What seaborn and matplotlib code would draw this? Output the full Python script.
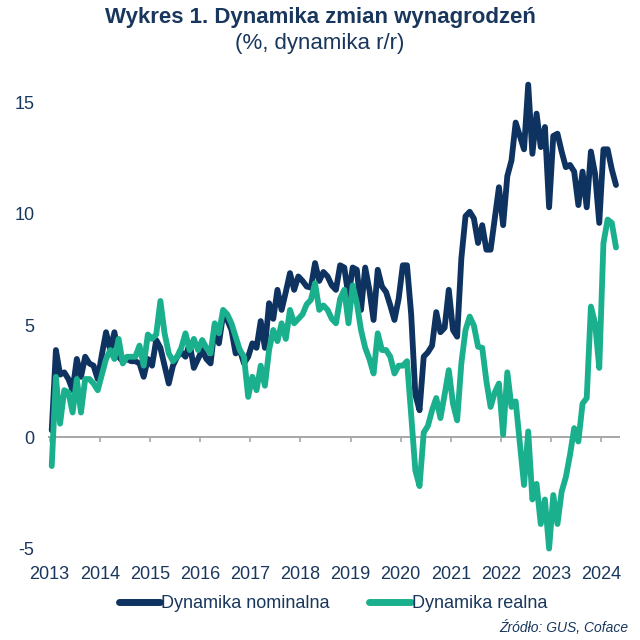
import numpy as np
import pandas as pd
import matplotlib
matplotlib.use("Agg")
import matplotlib.pyplot as plt
from matplotlib.lines import Line2D
import seaborn as sns

# ---------------- data (monthly, Jan 2013 - Apr 2024) ----------------
nominal = [
    0.3, 3.9, 2.8, 2.9, 2.6, 2.1, 3.5, 2.7, 3.6, 3.3, 3.2, 2.6,      # 2013
    3.7, 4.7, 3.9, 4.7, 3.6, 3.4, 3.5, 3.4, 3.4, 3.3, 2.7, 3.5,      # 2014
    3.2, 4.35, 4.0, 3.2, 2.4, 3.2, 3.6, 3.8, 3.6, 4.2, 3.1, 3.5,     # 2015
    3.9, 3.5, 3.3, 4.95, 4.2, 5.5, 5.25, 4.8, 3.75, 3.9, 3.3, 3.6,   # 2016
    4.2, 4.0, 5.2, 4.0, 6.0, 5.3, 6.6, 5.7, 6.5, 7.35, 6.6, 7.2,     # 2017
    7.0, 6.75, 6.7, 7.8, 7.0, 7.4, 7.2, 6.8, 6.6, 7.7, 7.6, 6.3,     # 2018
    7.6, 7.5, 5.7, 7.6, 6.6, 5.25, 7.5, 6.75, 6.5, 5.9, 5.25, 6.2,   # 2019
    7.7, 7.7, 5.5, 1.9, 1.2, 3.6, 3.8, 4.1, 5.6, 4.7, 4.9, 6.6,      # 2020
    4.8, 4.5, 8.0, 9.9, 10.1, 9.8, 8.7, 9.5, 8.4, 8.4, 9.8, 11.2,    # 2021
    9.5, 11.7, 12.4, 14.1, 13.5, 12.9, 15.8, 12.7, 14.5, 13.0, 13.9, 10.3,  # 2022
    13.5, 13.6, 12.8, 12.1, 12.2, 11.9, 10.4, 11.9, 10.3, 12.8, 11.8, 9.6,  # 2023
    12.9, 12.9, 12.0, 11.3,                                           # 2024
]
real = [
    -1.3, 2.7, 0.6, 2.1, 2.0, 1.1, 2.6, 1.1, 2.6, 2.6, 2.4, 2.1,     # 2013
    2.8, 3.5, 3.9, 3.5, 4.4, 3.3, 3.6, 3.6, 3.6, 4.1, 3.2, 4.6,      # 2014
    4.4, 4.6, 6.1, 4.65, 3.75, 3.4, 3.6, 4.0, 4.65, 3.9, 4.4, 3.9,   # 2015
    4.35, 4.0, 3.75, 5.1, 4.65, 5.7, 5.5, 5.1, 4.5, 3.9, 3.6, 1.8,   # 2016
    2.7, 2.1, 3.2, 2.3, 3.9, 4.8, 4.3, 5.1, 4.4, 5.7, 5.1, 5.3,      # 2017
    5.5, 5.95, 6.15, 6.9, 5.7, 5.9, 5.7, 5.3, 5.1, 6.2, 6.6, 5.1,    # 2018
    6.8, 6.0, 4.8, 4.0, 3.5, 2.85, 4.65, 3.9, 3.9, 3.6, 2.85, 3.2,   # 2019
    3.2, 3.4, 1.0, -1.5, -2.2, 0.2, 0.5, 1.2, 1.75, 0.85, 1.9, 3.0,  # 2020
    1.5, 0.75, 3.3, 4.8, 5.4, 5.0, 4.05, 4.0, 2.5, 1.35, 2.0, 2.4,   # 2021
    0.1, 2.9, 1.35, 1.6, -0.3, -2.15, 0.25, -2.8, -2.1, -3.9, -2.8, -5.0,  # 2022
    -2.6, -3.9, -2.45, -1.8, -0.8, 0.4, -0.2, 1.5, 1.75, 5.85, 5.1, 3.1,   # 2023
    8.7, 9.75, 9.6, 8.5,                                              # 2024
]
years = list(range(2013, 2025))
series_names = ["Dynamika nominalna", "Dynamika realna"]
colors = ["#0e3360", "#1bb08d"]
y_ticks = [-5, 0, 5, 10, 15]
title = "Wykres 1. Dynamika zmian wynagrodzeń"
subtitle = "(%, dynamika r/r)"
source = "Źródło: GUS, Coface"

# ---------------- build long table ----------------
n = len(nominal)
dates = pd.date_range("2013-01-01", periods=n, freq="MS")
month_idx = np.asarray((dates.year - years[0]) * 12 + dates.month - 1)
df = pd.DataFrame({
    "m": np.concatenate([month_idx, month_idx]),
    "v": nominal + real,
    "series": [series_names[0]] * n + [series_names[1]] * n,
})

sns.set_theme(style="white")
plt.rcParams["font.family"] = ["Liberation Sans", "DejaVu Sans"]
text_color = "#19375c"

fig = plt.figure(figsize=(6.4, 6.4), dpi=100)
ax = fig.add_axes([0.0756, 0.1359, 0.8934, 0.7458])

sns.lineplot(data=df, x="m", y="v", hue="series", hue_order=series_names,
             palette=colors, lw=4.2, ax=ax, legend=False,
             solid_joinstyle="round", solid_capstyle="round", zorder=3)

# zero line with year ticks
tick_pos = [(y - years[0]) * 12 - 0.5 for y in years]
ax.axhline(0, color="#a6a6a6", lw=1.4, zorder=1)
ax.vlines(tick_pos, -0.2, 0, color="#a6a6a6", lw=1.2, zorder=1)

ax.set_xlim(-0.8, 136)
ax.set_ylim(-5.2, 16.2)
ax.set_yticks(y_ticks)
ax.set_yticklabels([str(t) for t in y_ticks])
ax.set_xticks(tick_pos)
ax.set_xticklabels([str(y) for y in years])
ax.tick_params(axis="both", length=0, labelsize=13, colors=text_color)
ax.tick_params(axis="x", pad=9)
ax.tick_params(axis="y", pad=10)
ax.set_xlabel("")
ax.set_ylabel("")
for s in ax.spines.values():
    s.set_visible(False)
ax.grid(False)

# titles
fig.text(0.5, 1 - 18 / 640, title, ha="center", va="center",
         fontsize=16, fontweight="bold", color=text_color)
fig.text(0.5, 1 - 43 / 640, subtitle, ha="center", va="center",
         fontsize=16, color=text_color)

# legend
handles = [Line2D([0], [0], color=c, lw=5, solid_capstyle="round") for c in colors]
fig.legend(handles, series_names, loc="center", bbox_to_anchor=(0.52, 1 - 604 / 640),
           ncol=2, frameon=False, fontsize=13, handlelength=2.3,
           handletextpad=0.05, columnspacing=2.2, labelcolor=text_color)

fig.text(628 / 640, 1 - 628 / 640, source, ha="right", va="center",
         fontsize=10, style="italic", color=text_color)

fig.savefig("out.png", dpi=100)
